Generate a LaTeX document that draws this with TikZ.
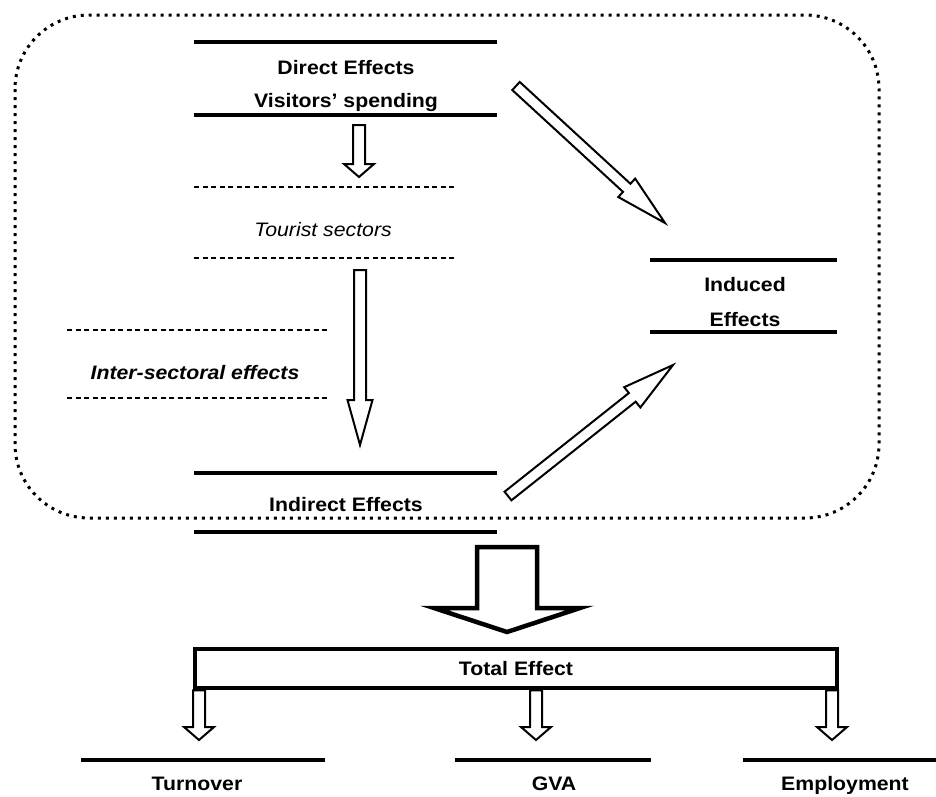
\documentclass[tikz,border=0pt]{standalone}
\usepackage{fontspec}
\setmainfont{Liberation Sans}[FakeStretch=1.09]
\usetikzlibrary{calc}
\usetikzlibrary{positioning}
\tikzstyle{bar} = [line width=4pt]
\tikzstyle{sectorline} = [line width=1.3pt, dash pattern=on 5pt off 3.5pt]
\tikzstyle{frame} = [line width=3pt, dash pattern=on 3pt off 5pt, rounded corners=74pt]
\tikzstyle{label} = [inner sep=0pt, anchor=base, font=\fontsize{19.5}{23}\selectfont\bfseries]
\tikzstyle{fatline} = [draw=black, fill=white, line width=2pt, line join=miter]

% block arrow: [style] {from} {to} {half shaft} {half head} {head length}
\newcommand{\fatarrow}[6][]{%
  \coordinate (fa-h) at ($(#3)!#6!(#2)$);
  \draw[fatline,#1] ($(#2)!#4!-90:(#3)$) -- ($(fa-h)!#4!-90:(#3)$)
    -- ($(fa-h)!#5!-90:(#3)$) -- (#3) -- ($(fa-h)!#5!90:(#3)$)
    -- ($(fa-h)!#4!90:(#3)$) -- ($(#2)!#4!90:(#3)$) -- cycle;}

\begin{document}
\begin{tikzpicture}[x=1pt, y=-1pt]
 \useasboundingbox (0,0) rectangle (936,796);

 % dotted frame
 \draw[frame] (15,15) rectangle (879,518);

 % direct effects
 \draw[bar] (194,42) -- (497,42);
 \draw[bar] (194,115) -- (497,115);
 \node (direct) [label] at (346,74) {Direct Effects};
 \node (spending) [label] at (346,107) {Visitors’ spending};

 % tourist sectors
 \draw[sectorline] (194,187) -- (455,187);
 \draw[sectorline] (194,258) -- (455,258);
 \node (tourist) [label, font=\fontsize{19.5}{23}\selectfont\itshape] at (323,236) {Tourist sectors};

 % inter-sectoral effects
 \draw[sectorline] (67,330) -- (327,330);
 \draw[sectorline] (67,398) -- (327,398);
 \node (inter) [label, font=\fontsize{19.5}{23}\selectfont\bfseries\itshape] at (195,379) {Inter-sectoral effects};

 % indirect effects
 \draw[bar] (194,473) -- (497,473);
 \draw[bar] (194,532) -- (497,532);
 \node (indirect) [label] at (346,511) {Indirect Effects};

 % induced effects
 \draw[bar] (650,260) -- (837,260);
 \draw[bar] (650,332) -- (837,332);
 \node (induced) [label] at (745,291) {Induced};
 \node (inducedb) [label] at (745,326) {Effects};

 % total effect
 \node (total) [draw, line width=4.5pt, minimum width=642pt, minimum height=39pt, inner sep=0pt,
   font=\fontsize{19.5}{23}\selectfont\bfseries] at (516,668.5) {Total Effect};

 % results
 \draw[bar] (81,760) -- (325,760);
 \draw[bar] (455,760) -- (651,760);
 \draw[bar] (743,760) -- (936,760);
 \node (turnover) [label] at (197,790) {Turnover};
 \node (gva) [label] at (554,790) {GVA};
 \node (employment) [label] at (845,790) {Employment};

 % arrow ends
 \coordinate (direct-s) at (359,125);
 \coordinate (tourist-n) at (359,177);
 \coordinate (tourist-s) at (360,270);
 \coordinate (indirect-n) at (360,445);
 \coordinate (direct-e) at (516,86);
 \coordinate (induced-nw) at (665,223);
 \coordinate (indirect-e) at (508,496);
 \coordinate (induced-sw) at (673,365);
 \coordinate (frame-s) at (507,547);
 \coordinate (total-n) at (507,632);
 \coordinate (turnover-n) at (199,740);
 \coordinate (gva-n) at (536,740);
 \coordinate (employment-n) at (832,740);

 % arrows
 \fatarrow{direct-s}{tourist-n}{6pt}{15pt}{13pt}
 \fatarrow{tourist-s}{indirect-n}{6pt}{12.5pt}{45pt}
 \fatarrow{direct-e}{induced-nw}{5.5pt}{12.5pt}{52pt}
 \fatarrow{indirect-e}{induced-sw}{5.5pt}{13pt}{52pt}
 \fatarrow[line width=4.5pt]{frame-s}{total-n}{30pt}{73pt}{24pt}
 \fatarrow{total.south-|turnover-n}{turnover-n}{6pt}{15pt}{13pt}
 \fatarrow{total.south-|gva-n}{gva-n}{6pt}{15pt}{13pt}
 \fatarrow{total.south-|employment-n}{employment-n}{6pt}{15pt}{13pt}
\end{tikzpicture}
\end{document}
